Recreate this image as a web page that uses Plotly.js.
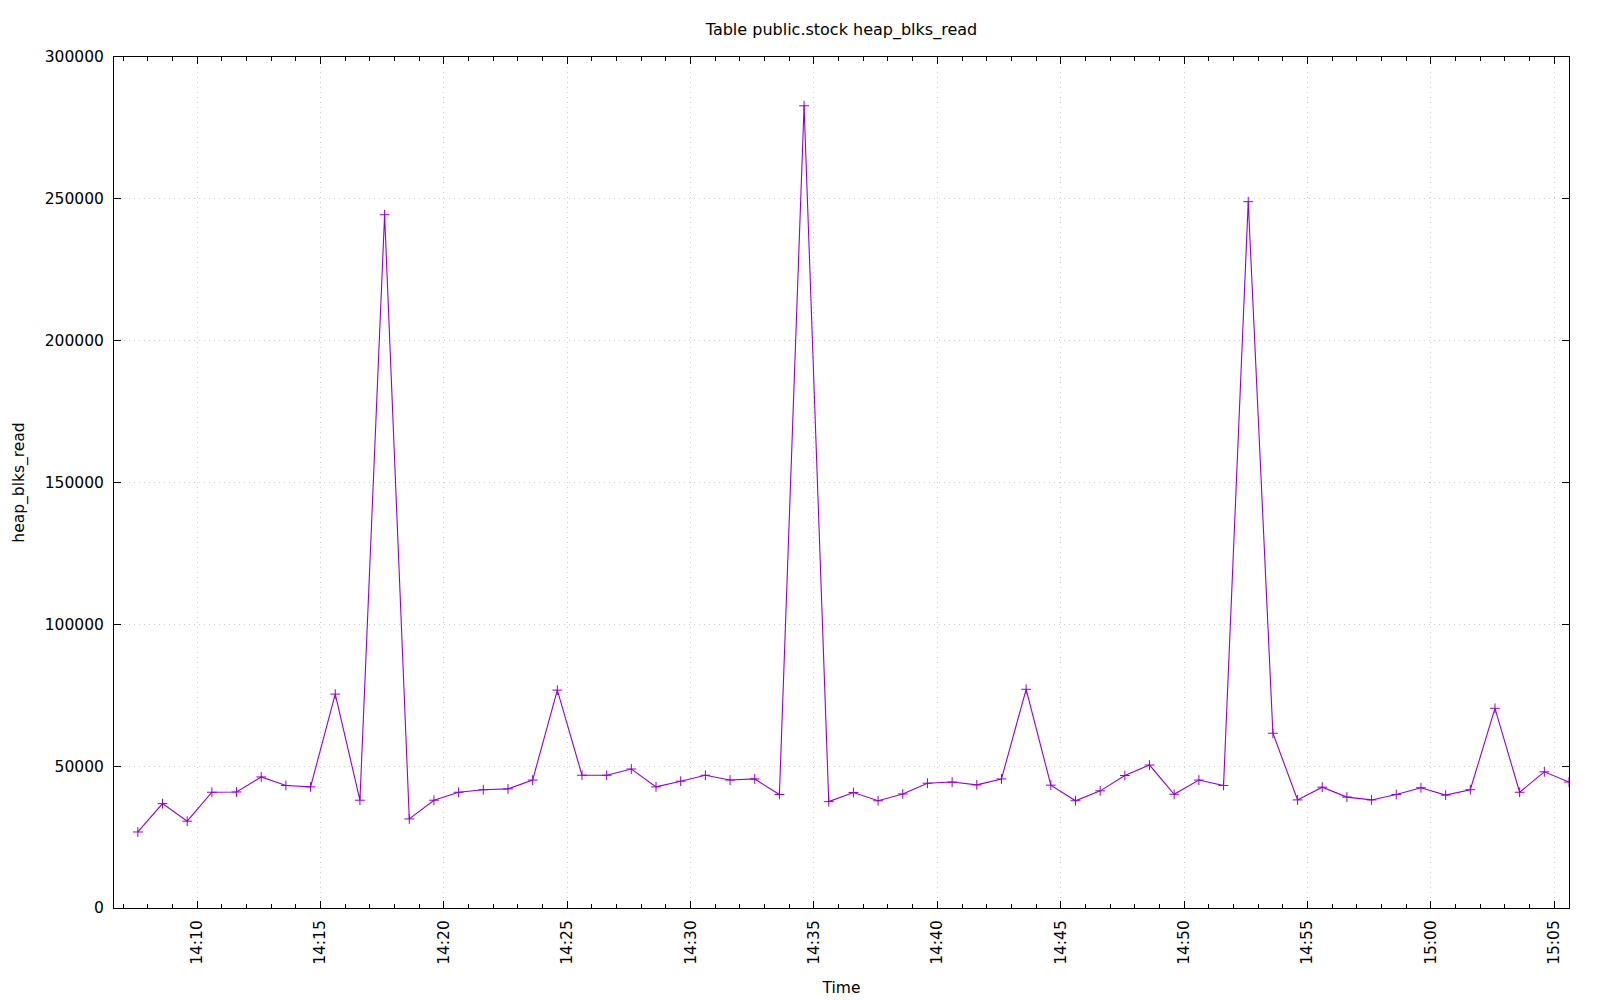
<!DOCTYPE html>
<html>
<head>
<meta charset="utf-8">
<script src="https://cdn.plot.ly/plotly-3.0.1.min.js"></script>
<style>html,body{margin:0;padding:0;background:#fff;}#chart{width:1600px;height:1000px;}</style>
</head>
<body>
<div id="chart"></div>
<script>
const times = [
  "2024-01-01 14:07:36","2024-01-01 14:08:36","2024-01-01 14:09:36","2024-01-01 14:10:36","2024-01-01 14:11:36",
  "2024-01-01 14:12:36","2024-01-01 14:13:36","2024-01-01 14:14:36","2024-01-01 14:15:36","2024-01-01 14:16:36",
  "2024-01-01 14:17:36","2024-01-01 14:18:36","2024-01-01 14:19:36","2024-01-01 14:20:36","2024-01-01 14:21:36",
  "2024-01-01 14:22:36","2024-01-01 14:23:36","2024-01-01 14:24:36","2024-01-01 14:25:36","2024-01-01 14:26:36",
  "2024-01-01 14:27:36","2024-01-01 14:28:36","2024-01-01 14:29:36","2024-01-01 14:30:36","2024-01-01 14:31:36",
  "2024-01-01 14:32:36","2024-01-01 14:33:36","2024-01-01 14:34:36","2024-01-01 14:35:36","2024-01-01 14:36:36",
  "2024-01-01 14:37:36","2024-01-01 14:38:36","2024-01-01 14:39:36","2024-01-01 14:40:36","2024-01-01 14:41:36",
  "2024-01-01 14:42:36","2024-01-01 14:43:36","2024-01-01 14:44:36","2024-01-01 14:45:36","2024-01-01 14:46:36",
  "2024-01-01 14:47:36","2024-01-01 14:48:36","2024-01-01 14:49:36","2024-01-01 14:50:36","2024-01-01 14:51:36",
  "2024-01-01 14:52:36","2024-01-01 14:53:36","2024-01-01 14:54:36","2024-01-01 14:55:36","2024-01-01 14:56:36",
  "2024-01-01 14:57:36","2024-01-01 14:58:36","2024-01-01 14:59:36","2024-01-01 15:00:36","2024-01-01 15:01:36",
  "2024-01-01 15:02:36","2024-01-01 15:03:36","2024-01-01 15:04:36","2024-01-01 15:05:36"
];
const heapBlksRead = [
  26800, 36800, 30600, 40800, 40900, 46200, 43200, 42700, 75400, 38000,
  244400, 31400, 38000, 40800, 41700, 42000, 45100, 76800, 46800, 46800,
  49000, 42700, 44700, 46800, 45100, 45500, 40000, 282800, 37500, 40700,
  37800, 40200, 44000, 44400, 43400, 45500, 77100, 43300, 37800, 41300,
  46700, 50400, 40100, 45100, 43200, 249000, 61600, 38100, 42600, 39100,
  38100, 40000, 42400, 39800, 41700, 70400, 40800, 48000, 44400
];
const titleText = "Table public.stock heap_blks_read";
const xTitle = "Time";
const yTitle = "heap_blks_read";
const xRange = ["2024-01-01 14:06:38", "2024-01-01 15:05:36"];
const yRange = [0, 300000];

const col = "#9400d3";
const font = {family: "DejaVu Sans, sans-serif", size: 15.5, color: "#000"};
const gridCol = "#d0d0d0";
const gridDash = "1px,4px";

const trace = {
  x: times, y: heapBlksRead, type: "scatter", mode: "lines+markers",
  line: {color: col, width: 1.1},
  marker: {symbol: "cross-thin", size: 7, color: col, line: {color: col, width: 1}},
  cliponaxis: true, showlegend: false
};

const layout = {
  width: 1600, height: 1000,
  paper_bgcolor: "#fff", plot_bgcolor: "#fff",
  margin: {l: 114, r: 31, t: 57, b: 92},
  font: font,
  title: {text: titleText, font: {family: font.family, size: 16, color: "#000"},
          x: 0.5, xref: "paper", xanchor: "center", y: 0.971, yref: "container", yanchor: "middle"},
  xaxis: {
    type: "date", range: xRange,
    tick0: "2024-01-01 14:10:00", dtick: 300000, tickformat: "%H:%M",
    tickangle: -90, ticks: "inside", ticklen: 7, tickcolor: "#000", tickwidth: 1,
    ticklabelstandoff: 5,
    showline: true, linecolor: "#000", linewidth: 1, mirror: "allticks",
    showgrid: true, gridcolor: gridCol, griddash: gridDash, gridwidth: 1,
    minor: {dtick: 60000, tick0: "2024-01-01 14:10:00", ticks: "inside", ticklen: 4, tickcolor: "#000", showgrid: false},
    zeroline: false,
    title: {text: xTitle, font: font, standoff: 18},
    tickfont: font
  },
  yaxis: {
    range: yRange, dtick: 50000, tickformat: "d",
    ticks: "inside", ticklen: 7, tickcolor: "#000", tickwidth: 1,
    ticklabelstandoff: 6,
    showline: true, linecolor: "#000", linewidth: 1, mirror: "allticks",
    showgrid: true, gridcolor: gridCol, griddash: gridDash, gridwidth: 1,
    zeroline: false,
    title: {text: yTitle, font: font, standoff: 16},
    tickfont: font
  }
};

Plotly.newPlot("chart", [trace], layout, {displayModeBar: false, staticPlot: true});
</script>
</body>
</html>
